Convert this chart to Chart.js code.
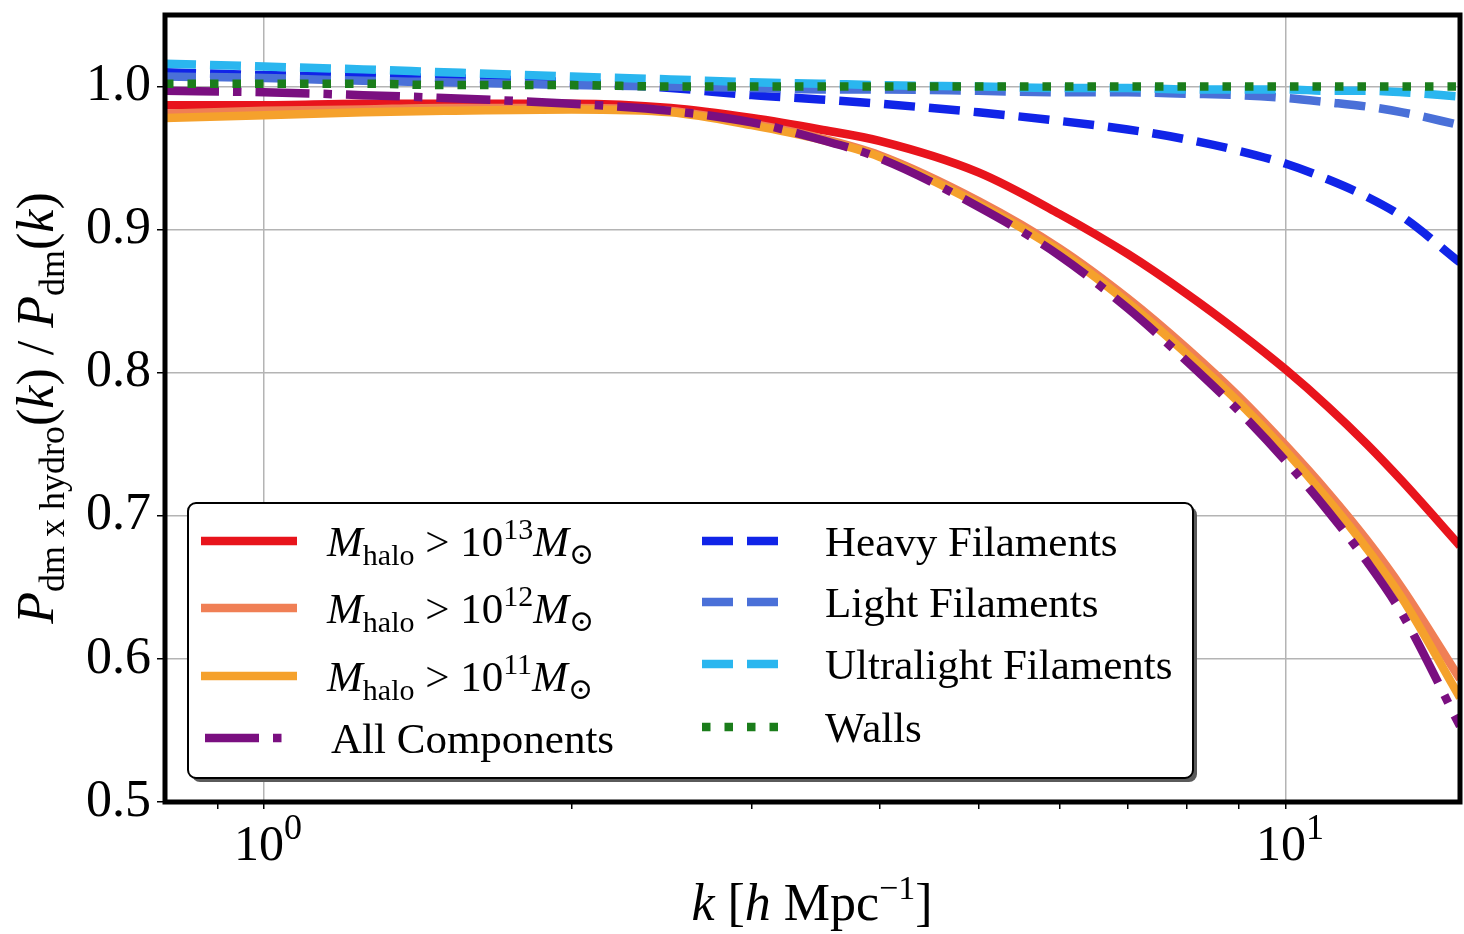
<!DOCTYPE html>
<html>
<head>
<meta charset="utf-8">
<script src="https://cdn.jsdelivr.net/npm/chart.js@4.4.1/dist/chart.umd.min.js"></script>
<style>
  html, body { margin: 0; padding: 0; background: #fff; overflow: hidden; }
</style>
</head>
<body>
<canvas id="grafico" width="1464" height="934"></canvas>
<script>
// k [h/Mpc] sample points
const kValues   = [0.8, 1.0, 1.25, 1.5, 2.0, 2.5, 3.0, 3.5, 4.0, 5.0, 6.0, 7.0, 8.0, 9.0, 10.0, 11.0, 12.0, 13.0, 14.8];

// ratio P_dm x hydro / P_dm for each component
const halo13    = [0.987, 0.987, 0.988, 0.988, 0.988, 0.985, 0.978, 0.970, 0.962, 0.940, 0.911, 0.883, 0.855, 0.828, 0.802, 0.776, 0.750, 0.724, 0.679];
const halo12    = [0.981, 0.983, 0.984, 0.985, 0.985, 0.983, 0.974, 0.964, 0.952, 0.920, 0.887, 0.852, 0.817, 0.783, 0.749, 0.716, 0.683, 0.649, 0.586];
const halo11    = [0.978, 0.980, 0.982, 0.983, 0.984, 0.982, 0.973, 0.963, 0.951, 0.918, 0.885, 0.849, 0.813, 0.779, 0.745, 0.711, 0.677, 0.642, 0.573];
const allComp   = [0.997, 0.996, 0.994, 0.992, 0.988, 0.983, 0.975, 0.963, 0.950, 0.916, 0.882, 0.845, 0.808, 0.773, 0.738, 0.703, 0.668, 0.631, 0.553];
const heavyFil  = [1.010, 1.008, 1.007, 1.006, 1.003, 0.999, 0.994, 0.991, 0.988, 0.982, 0.976, 0.970, 0.963, 0.955, 0.946, 0.935, 0.923, 0.909, 0.877];
const lightFil  = [1.007, 1.006, 1.004, 1.003, 1.001, 1.000, 0.999, 0.998, 0.998, 0.997, 0.996, 0.996, 0.995, 0.994, 0.992, 0.989, 0.986, 0.982, 0.973];
const ultraFil  = [1.016, 1.014, 1.012, 1.010, 1.007, 1.005, 1.003, 1.002, 1.001, 1.000, 0.999, 0.999, 0.998, 0.998, 0.998, 0.997, 0.997, 0.996, 0.993];
const walls     = [1.002, 1.002, 1.002, 1.001, 1.001, 1.000, 1.000, 1.000, 1.000, 1.000, 1.000, 1.000, 1.000, 1.000, 1.000, 1.000, 1.000, 1.000, 1.000];

const haloExps  = ['13', '12', '11'];
const nomes     = ['M_halo > 10^13 M_sun', 'M_halo > 10^12 M_sun', 'M_halo > 10^11 M_sun', 'All Components',
                   'Heavy Filaments', 'Light Filaments', 'Ultralight Filaments', 'Walls'];

const yTicks    = [0.5, 0.6, 0.7, 0.8, 0.9, 1.0];
const xTicks    = [0.9, 1, 2, 3, 4, 5, 6, 7, 8, 9, 10];
const xMajor    = [1, 10];
const xExps     = ['0', '1'];

// estilos
const cores  = ['#e8141c', '#f07f55', '#f5a12c', '#7a0f80', '#1024e8', '#4a70d8', '#2ab6ef', '#1b7d1b'];
const LW = 8.5;
const tracos = [[], [], [], [54, 14, 8.5, 14], [31, 14], [31, 14], [31, 14], [8.5, 14]];

const serif = '"Liberation Serif", "DejaVu Serif", serif';
function fnt(size, it) { return (it ? 'italic ' : '') + size + 'px ' + serif; }

function larguraRich(ctx, segs) {
    let w = 0;
    segs.forEach(s => { ctx.font = fnt(s.s, s.i); w += ctx.measureText(s.t).width + (s.g || 0); });
    return w;
}

function desenhaRich(ctx, segs, x, y, align) {
    let cx = align === 'center' ? x - larguraRich(ctx, segs) / 2 : x;
    ctx.textAlign = 'left';
    ctx.textBaseline = 'alphabetic';
    segs.forEach(s => {
        ctx.font = fnt(s.s, s.i);
        ctx.fillText(s.t, cx, y + (s.dy || 0));
        cx += ctx.measureText(s.t).width + (s.g || 0);
    });
}

function rotuloHalo(e) {
    return [{t: 'M', s: 43, i: 1}, {t: 'halo', s: 30, dy: 9}, {t: ' > 10', s: 43}, {t: e, s: 30, dy: -17},
            {t: 'M', s: 43, i: 1}, {t: '\u2299', s: 30, dy: 8}];
}

function rotulo(i) {
    if (i < 3) return rotuloHalo(haloExps[i]);
    return [{t: nomes[i], s: 43}];
}

const datasets = [halo13, halo12, halo11, allComp, heavyFil, lightFil, ultraFil, walls].map((arr, i) => ({
    label: nomes[i],
    data: kValues.map((k, j) => ({x: k, y: arr[j]})),
    borderColor: cores[i],
    borderWidth: LW,
    borderDash: tracos[i],
    pointRadius: 0,
    fill: false,
    cubicInterpolationMode: 'monotone',
    order: 8 - i
}));

// moldura, títulos e legenda
const extras = {
    id: 'extras',
    afterDatasetsDraw(chart) {
        const ctx = chart.ctx, a = chart.chartArea;
        ctx.save();
        ctx.strokeStyle = '#000';
        ctx.lineWidth = 5;
        ctx.strokeRect(a.left, a.top, a.right - a.left, a.bottom - a.top);
        ctx.restore();
    },
    afterDraw(chart) {
        const ctx = chart.ctx;
        const xs = chart.scales.x;
        ctx.save();
        ctx.fillStyle = '#000';

        // rótulos 10^n
        xMajor.forEach((v, i) => {
            desenhaRich(ctx, [{t: '10', s: 50}, {t: xExps[i], s: 36, dy: -21}], xs.getPixelForValue(v) + 4, 860, 'center');
        });

        // título eixo x
        desenhaRich(ctx, [{t: 'k', s: 52, i: 1}, {t: ' [', s: 52}, {t: 'h', s: 52, i: 1}, {t: ' Mpc', s: 52},
                          {t: '\u22121', s: 34, dy: -21}, {t: ']', s: 52}], 812, 920, 'center');

        // título eixo y
        ctx.save();
        ctx.translate(53, 408);
        ctx.rotate(-Math.PI / 2);
        desenhaRich(ctx, [{t: 'P', s: 52, i: 1}, {t: 'dm x hydro', s: 36, dy: 11}, {t: '(', s: 52}, {t: 'k', s: 52, i: 1},
                          {t: ') / ', s: 52}, {t: 'P', s: 52, i: 1}, {t: 'dm', s: 36, dy: 11}, {t: '(', s: 52},
                          {t: 'k', s: 52, i: 1}, {t: ')', s: 52}], 0, 0, 'center');
        ctx.restore();

        // legenda
        const bx = 188, by = 503, bw = 1005, bh = 275;
        ctx.fillStyle = '#5a5a5a';
        ctx.beginPath(); ctx.roundRect(bx + 4, by + 4, bw, bh, 8); ctx.fill();
        ctx.fillStyle = '#fff';
        ctx.beginPath(); ctx.roundRect(bx, by, bw, bh, 8); ctx.fill();
        ctx.strokeStyle = '#000'; ctx.lineWidth = 2;
        ctx.stroke();

        const colunas = [{x1: 201, x2: 297, tx: 327, rows: [541, 608, 676, 738]},
                         {x1: 702, x2: 778, tx: 825, rows: [541, 602, 664, 727]}];
        chart.data.datasets.forEach((d, i) => {
            const c = colunas[i < 4 ? 0 : 1];
            const y = c.rows[i % 4];
            const x1 = i === 3 ? 205 : c.x1;
            const x2 = i === 3 ? 283 : c.x2;
            ctx.save();
            ctx.strokeStyle = d.borderColor;
            ctx.lineWidth = LW;
            ctx.setLineDash(d.borderDash);
            ctx.beginPath(); ctx.moveTo(x1, y); ctx.lineTo(x2, y); ctx.stroke();
            ctx.restore();
            ctx.fillStyle = '#000';
            desenhaRich(ctx, rotulo(i), i === 3 ? c.tx + 4 : c.tx, y + 15, 'left');
        });
        ctx.restore();
    }
};

new Chart(document.getElementById('grafico'), {
    type: 'line',
    data: { datasets },
    options: {
        responsive: false,
        animation: false,
        events: [],
        layout: { padding: { top: 15, right: 4, left: 0, bottom: 0 } },
        plugins: { legend: { display: false }, tooltip: { enabled: false } },
        scales: {
            x: {
                type: 'logarithmic',
                min: 0.8,
                max: 14.8,
                afterBuildTicks: s => { s.ticks = xTicks.map(v => ({value: v, major: xMajor.includes(v)})); },
                afterFit: s => { s.height = 132; s.paddingLeft = 0; s.paddingRight = 0; },
                border: { display: false },
                grid: {
                    color: c => (c.tick && xMajor.includes(c.tick.value)) ? '#b4b4b4' : 'rgba(0,0,0,0)',
                    lineWidth: 1.5,
                    tickColor: '#000',
                    tickLength: 7
                },
                ticks: { callback: () => '', maxRotation: 0, autoSkip: false }
            },
            y: {
                min: 0.5,
                max: 1.05,
                afterBuildTicks: s => { s.ticks = yTicks.map(v => ({value: v})); },
                afterFit: s => { s.width = 165; s.paddingTop = 0; s.paddingBottom = 0; },
                border: { display: false },
                grid: { color: '#b4b4b4', lineWidth: 1.5, tickColor: '#000', tickLength: 8 },
                ticks: {
                    color: '#000',
                    padding: 6,
                    font: { family: serif, size: 52 },
                    callback: v => Number(v).toFixed(1)
                }
            }
        }
    },
    plugins: [extras]
});
</script>
</body>
</html>
